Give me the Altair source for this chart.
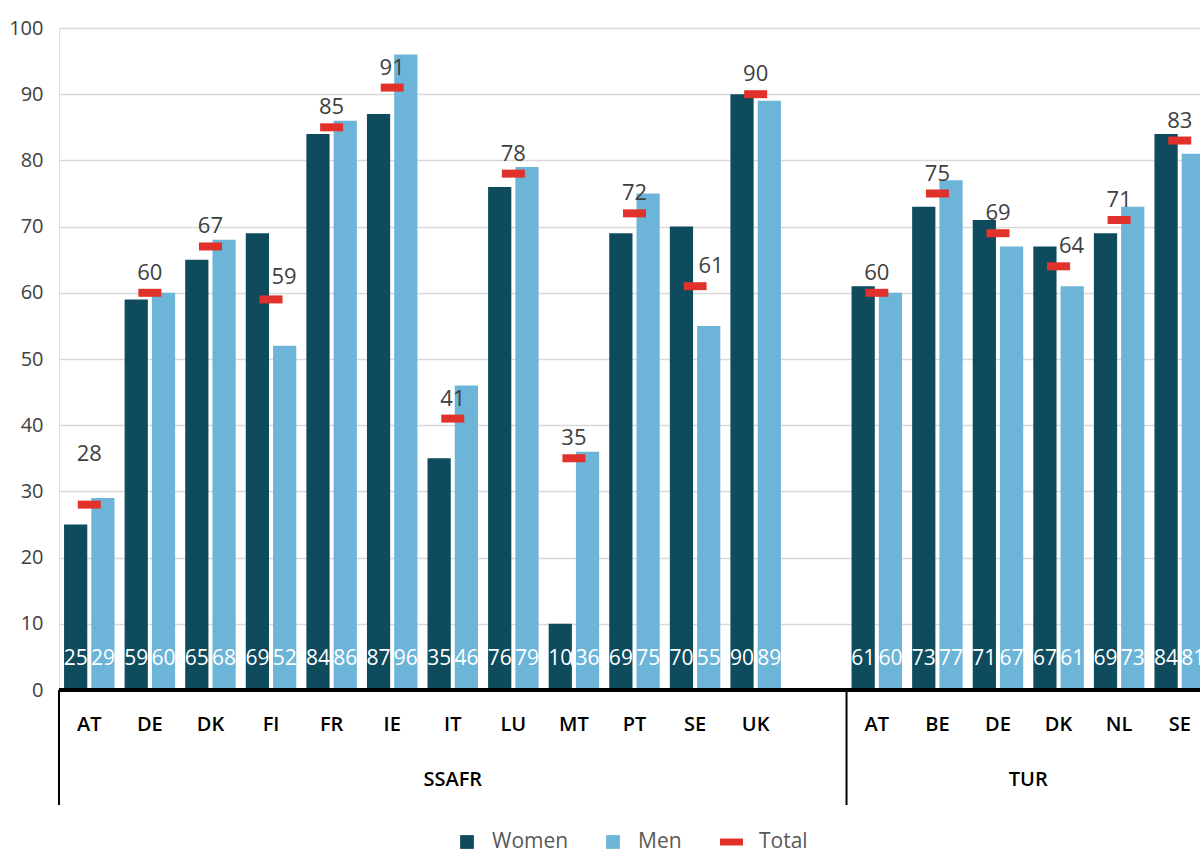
import altair as alt
import pandas as pd

# Share (%) by country of residence, split by sex, for two origin groups
ssafr_countries = ["AT", "DE", "DK", "FI", "FR", "IE", "IT", "LU", "MT", "PT", "SE", "UK"]
ssafr_women = [25, 59, 65, 69, 84, 87, 35, 76, 10, 69, 70, 90]
ssafr_men = [29, 60, 68, 52, 86, 96, 46, 79, 36, 75, 55, 89]
ssafr_total = [28, 60, 67, 59, 85, 91, 41, 78, 35, 72, 61, 90]

tur_countries = ["AT", "BE", "DE", "DK", "NL", "SE"]
tur_women = [61, 73, 71, 67, 69, 84]
tur_men = [60, 77, 67, 61, 73, 81]
tur_total = [60, 75, 69, 64, 71, 83]

# figures shown in brackets (small samples)
bracketed = {("SSAFR", "MT", "Men")}

series = ["Women", "Men"]
colors = {"Women": "#0E4B5D", "Men": "#6DB5D8", "Total": "#E0322A"}

groups = [
    ("SSAFR", ssafr_countries, ssafr_women, ssafr_men, ssafr_total),
    ("TUR", tur_countries, tur_women, tur_men, tur_total),
]

keys, bar_rows, total_rows, cat_rows = [], [], [], []
for g, countries, women, men, total in groups:
    for c, w, m, t in zip(countries, women, men, total):
        k = f"{g}-{c}"
        keys.append(k)
        cat_rows.append({"key": k, "country": c})
        for s, v in (("Women", w), ("Men", m)):
            lab = f"({v})" if (g, c, s) in bracketed else str(v)
            bar_rows.append({"key": k, "series": s, "value": v, "label": lab})
        total_rows.append({"key": k, "Total": t})
    if g == "SSAFR":
        keys.append("SSAFR-")  # empty slot closing the first group

bars_df = pd.DataFrame(bar_rows)
total_df = pd.DataFrame(total_rows)
cat_df = pd.DataFrame(cat_rows)

# total labels moved off the bars they would otherwise collide with (dx, dy in px)
label_nudge = {
    "SSAFR-AT": (0, -31),
    "SSAFR-FI": (13, -2),
    "SSAFR-SE": (16, 0),
    "TUR-DK": (13, 0),
}

W, H = 1141, 662
FONT = "Open Sans"
GREY = "#404040"

x_scale = alt.Scale(domain=keys, range=[0, 1151], paddingInner=0, paddingOuter=0)
x_plain = alt.X("key:N", scale=x_scale, axis=None)
y_scale = alt.Scale(domain=[0, 100], nice=False)
y_axis = alt.Axis(
    title=None, values=list(range(0, 101, 10)), domain=False, ticks=False,
    grid=True, gridColor="#D9D9D9", gridWidth=1.5,
    labelFontSize=20, labelColor=GREY, labelPadding=16, labelFont=FONT,
)
x_off = alt.XOffset(
    "series:N",
    scale=alt.Scale(domain=series, paddingInner=0.148, paddingOuter=0.185),
)
color_enc = alt.Color(
    "series:N",
    scale=alt.Scale(domain=series, range=[colors[s] for s in series]),
    legend=None,
)

bars = alt.Chart(bars_df).mark_bar().encode(
    x=x_plain,
    xOffset=x_off,
    y=alt.Y("value:Q", scale=y_scale, axis=y_axis),
    y2=alt.value(H + 5),
    color=color_enc,
)

baseline = alt.Chart(bars_df).mark_rule(color="#000000", strokeWidth=2.5).encode(
    x=alt.value(0), x2=alt.value(W), y=alt.value(H)
)

bar_labels = alt.Chart(bars_df).mark_text(
    color="white", fontSize=21, font=FONT, baseline="middle"
).encode(
    x=x_plain, xOffset=x_off, y=alt.value(631), text="label:N"
)

ticks = alt.Chart(total_df).mark_tick(
    color=colors["Total"], size=23, thickness=8, opacity=1
).encode(x=x_plain, y=alt.Y("Total:Q", scale=y_scale))

total_text = dict(color=GREY, fontSize=22, font=FONT, baseline="middle")
nudged = list(label_nudge)
total_labels = alt.Chart(total_df).mark_text(dy=-20, **total_text).encode(
    x=x_plain, y=alt.Y("Total:Q", scale=y_scale), text="Total:Q"
).transform_filter(alt.FieldOneOfPredicate(field="key", oneOf=nudged).__invert__())
nudged_labels = [
    alt.Chart(total_df).mark_text(dx=dx, dy=-20 + dy, **total_text).encode(
        x=x_plain, y=alt.Y("Total:Q", scale=y_scale), text="Total:Q"
    ).transform_filter(alt.datum.key == k)
    for k, (dx, dy) in label_nudge.items()
]

# country labels under the axis
cat_labels = alt.Chart(cat_df).mark_text(
    fontSize=20, fontWeight=600, font=FONT, color="#000000", baseline="middle"
).encode(x=x_plain, y=alt.value(H + 35), text="country:N")

# group separators below the axis
sep_left = alt.Chart(total_df).mark_rule(color="#000000", strokeWidth=2).encode(
    x=alt.value(0), y=alt.value(H), y2=alt.value(H + 115)
)
sep_mid = alt.Chart(pd.DataFrame({"key": ["TUR-AT"]})).mark_rule(
    color="#000000", strokeWidth=2
).encode(
    x=alt.X("key:N", scale=x_scale, axis=None, bandPosition=0),
    y=alt.value(H), y2=alt.value(H + 115),
)

group_style = dict(fontSize=20, fontWeight=600, font=FONT, color="#000000", baseline="middle")
grp_ssafr = alt.Chart(pd.DataFrame({"key": ["SSAFR-IT"], "g": ["SSAFR"]})).mark_text(
    **group_style
).encode(
    x=alt.X("key:N", scale=x_scale, axis=None, bandPosition=0.5),
    y=alt.value(H + 90), text="g:N",
)
grp_tur = alt.Chart(pd.DataFrame({"key": ["TUR-DK"], "g": ["TUR"]})).mark_text(
    **group_style
).encode(
    x=alt.X("key:N", scale=x_scale, axis=None, bandPosition=0),
    y=alt.value(H + 90), text="g:N",
)

# legend row
leg_y = 814
leg_df = pd.DataFrame({"n": [0]})
leg_text = dict(fontSize=21, font=FONT, color="#595959", align="left", baseline="middle")
legend_layers = [
    alt.Chart(leg_df).mark_square(size=190, opacity=1, color=colors["Women"]).encode(
        x=alt.value(408), y=alt.value(leg_y)),
    alt.Chart(leg_df).mark_text(text="Women", **leg_text).encode(
        x=alt.value(433), y=alt.value(leg_y)),
    alt.Chart(leg_df).mark_square(size=190, opacity=1, color=colors["Men"]).encode(
        x=alt.value(554), y=alt.value(leg_y)),
    alt.Chart(leg_df).mark_text(text="Men", **leg_text).encode(
        x=alt.value(579), y=alt.value(leg_y)),
    alt.Chart(leg_df).mark_rule(color=colors["Total"], strokeWidth=7).encode(
        x=alt.value(661), x2=alt.value(684), y=alt.value(leg_y)),
    alt.Chart(leg_df).mark_text(text="Total", **leg_text).encode(
        x=alt.value(700), y=alt.value(leg_y)),
]

chart = alt.layer(
    bars, baseline, bar_labels, ticks, total_labels, *nudged_labels,
    cat_labels, sep_left, sep_mid, grp_ssafr, grp_tur, *legend_layers,
).properties(
    width=W, height=H,
    padding={"left": 59, "top": 28, "right": 0, "bottom": 160},
    autosize="none",
).configure_view(stroke=None).configure(font=FONT)

chart.save("out.html", embed_options={"renderer": "svg", "actions": False})
